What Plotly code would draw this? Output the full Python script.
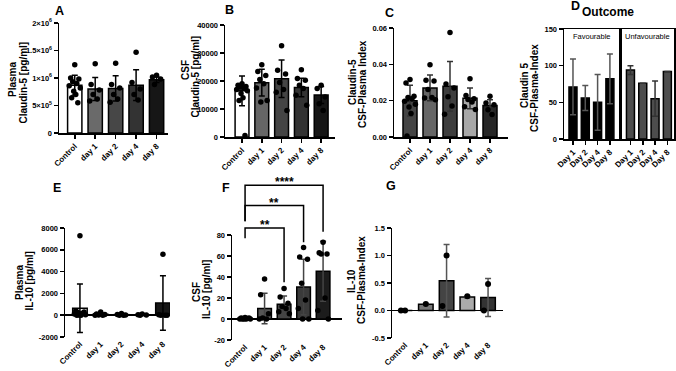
import plotly.graph_objects as go

W, H = 676, 371
FONT = "Liberation Sans, Arial, Helvetica, sans-serif"

categories = ["Control", "day 1", "day 2", "day 4", "day 8"]
outcome_days = ["Day 1", "Day 2", "Day 4", "Day 8"]

# ---------------- Panel A: Plasma Claudin-5 [pg/ml]
a_mean = [870000, 800000, 810000, 870000, 970000]
a_sd = [180000, 210000, 230000, 280000, 50000]
a_points = [
    [1240000, 1000000, 980000, 930000, 900000, 860000, 820000, 760000, 700000, 640000, 550000],
    [1260000, 880000, 780000, 700000, 620000, 580000],
    [1270000, 880000, 820000, 700000, 620000, 560000],
    [1470000, 920000, 800000, 700000, 600000],
    [1050000, 1020000, 980000, 880000],
]
a_yticks = [0, 500000, 1000000, 1500000, 2000000]
a_yticktext = ["0", "5×10<sup>5</sup>", "1×10<sup>6</sup>", "1.5×10<sup>6</sup>", "2×10<sup>6</sup>"]

# ---------------- Panel B: CSF Claudin-5 [pg/ml]
b_mean = [16500, 19400, 20800, 17700, 15000]
b_sd = [5300, 4800, 6700, 3300, 3000]
b_points = [
    [19000, 18500, 18000, 17800, 17500, 17000, 16500, 15500, 14000, 13000, 500],
    [25800, 23400, 22000, 20500, 19000, 17500, 13000, 12500],
    [32600, 23800, 22500, 19500, 17000, 16000, 9500],
    [24000, 20900, 20300, 18500, 17300, 14900, 11300],
    [18500, 17300, 14300, 11900, 9500],
]
b_yticks = [0, 10000, 20000, 30000, 40000]

# ---------------- Panel C: Claudin-5 CSF-Plasma Index
c_mean = [0.0200, 0.0270, 0.0279, 0.0213, 0.0174]
c_sd = [0.0085, 0.0071, 0.0137, 0.0057, 0.0031]
c_points = [
    [0.0316, 0.0297, 0.0225, 0.0218, 0.0210, 0.0197, 0.0180, 0.0165, 0.0130, 0.0005],
    [0.0398, 0.0312, 0.0308, 0.0262, 0.0218, 0.0214, 0.0205],
    [0.0575, 0.0292, 0.0270, 0.0222, 0.0170, 0.0125],
    [0.0320, 0.0228, 0.0210, 0.0207, 0.0192, 0.0167, 0.0152],
    [0.0224, 0.0187, 0.0178, 0.0150, 0.0124],
]
c_yticks = [0, 0.02, 0.04, 0.06]
c_yticktext = ["0.00", "0.02", "0.04", "0.06"]

# ---------------- Panel D: Claudin 5 CSF-Plasma-Index by outcome
d_fav_mean = [71, 56, 50, 82]
d_fav_sd = [38, 17, 38, 34]
d_unfav_mean = [94, 76, 55, 92]
d_unfav_sd = [6, 0, 24, 0]
d_yticks = [0, 50, 100, 150]

# ---------------- Panel E: Plasma IL-10 [pg/ml]
e_mean = [640, 80, 50, 40, 1115]
e_sd = [2220, 80, 40, 30, 2500]
e_points = [
    [7300, 400, 300, 250, 150, 100, 50, 20, 0, 0],
    [300, 120, 60, 20, 0, 0],
    [150, 60, 20, 0, 0],
    [100, 40, 10, 0],
    [5600, 50, 0, 0, 0],
]
e_yticks = [-2000, 0, 2000, 4000, 6000, 8000]

# ---------------- Panel F: CSF IL-10 [pg/ml]
f_mean = [0.5, 10, 14, 30.5, 45.5]
f_sd = [0.5, 14.5, 8, 26.4, 28.5]
f_points = [
    [1.5, 1, 1, 0.5, 0.5, 0, 0, 0, 0, 0],
    [38, 23, 5, 1, 0, 0],
    [29, 21, 15, 12, 10, 7, 5],
    [68, 59, 57, 34, 18, 10, 0, 0],
    [73, 63, 62, 62, 20, 8, 0],
]
f_yticks = [-20, 0, 20, 40, 60, 80]
f_sig_pairs = [(0, 2), (0, 3), (0, 4)]
f_sig_labels = ["**", "**", "****"]
f_sig_heights = [86.7, 108, 127.5]
f_sig_left_ends = [77, 93, 93]
f_sig_right_ends = [35, 73, 83]

# ---------------- Panel G: IL-10 CSF-Plasma-Index
g_mean = [0.0, 0.115, 0.54, 0.245, 0.235]
g_sd = [0.0, 0.01, 0.66, 0.02, 0.345]
g_points = [
    [0.0, 0.0],
    [0.12],
    [1.0, 0.08],
    [0.26],
    [0.48, 0.0],
]
g_yticks = [-0.5, 0, 0.5, 1.0, 1.5]
g_yticktext = ["-0.5", "0.0", "0.5", "1.0", "1.5"]

# ---------------- geometry (pixel boxes) and styles
geom = {
    1: dict(x=(59, 168), y=(23, 133), xr=(-0.77, 4.56), yr=(0, 2000000)),
    2: dict(x=(225, 335), y=(25, 137), xr=(-0.86, 4.7), yr=(0, 40000)),
    3: dict(x=(394, 508), y=(28, 137), xr=(-0.8, 4.9), yr=(0, 0.06)),
    4: dict(x=(564, 620), y=(29, 139), xr=(-0.73, 3.82), yr=(0, 150)),
    5: dict(x=(620, 674), y=(29, 139), xr=(-0.85, 3.54), yr=(0, 150)),
    6: dict(x=(65, 170), y=(228, 337), xr=(-0.72, 4.34), yr=(-2000, 8000)),
    7: dict(x=(232, 342), y=(235, 340), xr=(-0.67, 4.97), yr=(-20, 80)),
    8: dict(x=(392, 503), y=(228, 338), xr=(-0.63, 4.72), yr=(-0.5, 1.5)),
}
colors = {
    1: ["#ffffff", "#6a6a6a", "#474747", "#333333", "#161616"],
    2: ["#ffffff", "#666666", "#444444", "#333333", "#161616"],
    3: ["#444444", "#666666", "#3d3d3d", "#a8a8a8", "#262626"],
    6: ["#ffffff", "#444444", "#444444", "#444444", "#161616"],
    7: ["#ffffff", "#555555", "#444444", "#3a3a3a", "#1c1c1c"],
    8: ["#ffffff", "#777777", "#444444", "#aaaaaa", "#333333"],
}
err_colors = {1: "black", 2: "black", 3: "#333333", 6: "black", 7: "#444444", 8: "#555555"}


def jitter(n):
    pattern = [0.0, -0.2, 0.2, -0.1, 0.1, -0.27, 0.27, -0.05, 0.05, -0.15, 0.15, -0.24, 0.24]
    return [pattern[i % len(pattern)] for i in range(n)]


def ax_name(k, a):
    return a if k == 1 else f"{a}{k}"


fig = go.Figure()

panel_data = {
    1: (a_mean, a_sd, a_points),
    2: (b_mean, b_sd, b_points),
    3: (c_mean, c_sd, c_points),
    6: (e_mean, e_sd, e_points),
    7: (f_mean, f_sd, f_points),
    8: (g_mean, g_sd, g_points),
}

for k, (mean, sd, pts) in panel_data.items():
    xs = list(range(len(categories)))
    fig.add_trace(go.Bar(
        x=xs, y=mean, width=0.7,
        marker=dict(color=colors[k], line=dict(color="black", width=1.5)),
        error_y=dict(type="data", array=sd, color=err_colors[k], thickness=1.5, width=3),
        xaxis=ax_name(k, "x"), yaxis=ax_name(k, "y"), hoverinfo="skip",
    ))
    px_, py_ = [], []
    for i, group in enumerate(pts):
        for off, v in zip(jitter(len(group)), group):
            px_.append(i + off)
            py_.append(v)
    fig.add_trace(go.Scatter(
        x=px_, y=py_, mode="markers",
        marker=dict(color="black", size=5.5 if k != 8 else 6, line=dict(width=0)),
        cliponaxis=False,
        xaxis=ax_name(k, "x"), yaxis=ax_name(k, "y"), hoverinfo="skip",
    ))

# Panel D bars
fig.add_trace(go.Bar(
    x=list(range(4)), y=d_fav_mean, width=0.65,
    marker=dict(color="#000000", line=dict(color="black", width=1.5)),
    error_y=dict(type="data", array=d_fav_sd, color="#555555", thickness=1.5, width=3),
    xaxis="x4", yaxis="y4", hoverinfo="skip",
))
fig.add_trace(go.Bar(
    x=list(range(4)), y=d_unfav_mean, width=0.65,
    marker=dict(color="#4d4d4d", line=dict(color="black", width=1.5)),
    error_y=dict(type="data", array=d_unfav_sd, color="#333333", thickness=1.5, width=3),
    xaxis="x5", yaxis="y5", hoverinfo="skip",
))

tickfont = dict(family=FONT, size=7.5, color="black", weight="bold")
layout = dict(
    template="none",
    width=W, height=H, margin=dict(l=0, r=0, t=0, b=0, pad=0, autoexpand=False),
    paper_bgcolor="white", plot_bgcolor="white", showlegend=False,
    font=dict(family=FONT, color="black"), barmode="overlay",
)

yticks_cfg = {
    1: (a_yticks, a_yticktext),
    2: (b_yticks, [str(v) for v in b_yticks]),
    3: (c_yticks, c_yticktext),
    4: (d_yticks, [str(v) for v in d_yticks]),
    5: (d_yticks, [str(v) for v in d_yticks]),
    6: (e_yticks, [str(v) for v in e_yticks]),
    7: (f_yticks, [str(v) for v in f_yticks]),
    8: (g_yticks, g_yticktext),
}

for k, g in geom.items():
    xa = "xaxis" if k == 1 else f"xaxis{k}"
    ya = "yaxis" if k == 1 else f"yaxis{k}"
    zero_axis = k in (6, 7, 8)
    is_d = k in (4, 5)
    if is_d:
        tv, tt = list(range(4)), outcome_days
    else:
        tv, tt = list(range(5)), categories
    layout[xa] = dict(
        domain=[g["x"][0] / W, g["x"][1] / W], anchor=ax_name(k, "y"),
        range=list(g["xr"]), tickvals=tv, ticktext=tt, tickangle=-45,
        showline=not zero_axis, linecolor="black", linewidth=1.5,
        mirror=True if is_d else False, automargin=False,
        ticks="" if zero_axis else "outside", ticklen=4, tickwidth=1.5, tickcolor="black",
        tickfont=dict(tickfont, size=8), showgrid=False, zeroline=False, fixedrange=True,
    )
    yv, yt = yticks_cfg[k]
    layout[ya] = dict(
        domain=[1 - g["y"][1] / H, 1 - g["y"][0] / H], anchor=ax_name(k, "x"),
        range=list(g["yr"]), tickvals=yv, ticktext=yt,
        showline=True, linecolor="black", linewidth=1.5,
        mirror=True if is_d else False, automargin=False,
        ticks="" if k == 5 else "outside", ticklen=4, tickwidth=1.5, tickcolor="black",
        showticklabels=(k != 5),
        tickfont=tickfont, showgrid=False,
        zeroline=zero_axis, zerolinecolor="black", zerolinewidth=1.5,
        fixedrange=True,
    )

annotations = []


def ann(text, x, y, size, bold=True, angle=0, xanchor="center", yanchor="middle"):
    annotations.append(dict(
        text=text, x=x / W, y=1 - y / H, xref="paper", yref="paper",
        showarrow=False, textangle=angle, xanchor=xanchor, yanchor=yanchor,
        font=dict(family=FONT, size=size, color="black", weight="bold" if bold else "normal"),
    ))


# panel letters
for letter, x, y in [("A", 59, 11), ("B", 229, 10), ("C", 390, 13), ("D", 575, 6),
                     ("E", 57, 188), ("F", 226, 188), ("G", 391, 186)]:
    ann(letter, x, y, 12.5)

# y-axis titles (one annotation per line)
TS = 10
for text, x, y in [
    ("Plasma", 12, 80), ("Claudin-5 [pg/ml]", 22.5, 83),
    ("CSF", 186, 70), ("Claudin-5 [pg/ml]", 195.5, 77),
    ("Claudin-5", 353, 82), ("CSF-Plasma Index", 363, 84),
    ("Claudin 5", 524, 86), ("CSF-Plasma-Index", 534, 88),
    ("Plasma", 19, 283), ("IL-10 [pg/ml]", 28.5, 281),
    ("CSF", 196, 292), ("IL-10 [pg/ml]", 206, 290),
    ("IL-10", 351, 281), ("CSF-Plasma-Index", 361, 280),
]:
    ann(text, x, y, TS, angle=-90)

# Panel D header texts
ann("Outcome", 608, 12, 12)
ann("Favourable", 592, 37, 7.5, bold=False)
ann("Unfavourable", 647, 37, 7.5, bold=False)

# significance brackets in panel F (converted through panel F's axis mapping)
gf = geom[7]


def fxp(v):
    x0, x1 = gf["x"]
    r0, r1 = gf["xr"]
    return (x0 + (v - r0) / (r1 - r0) * (x1 - x0)) / W


def fyp(v):
    y0, y1 = gf["y"]
    r0, r1 = gf["yr"]
    py = y1 - (v - r0) / (r1 - r0) * (y1 - y0)
    return 1 - py / H


shapes = []
for (a, b), lab, h, le, re in zip(f_sig_pairs, f_sig_labels, f_sig_heights,
                                   f_sig_left_ends, f_sig_right_ends):
    path = (f"M {fxp(a)},{fyp(le)} L {fxp(a)},{fyp(h)} "
            f"L {fxp(b)},{fyp(h)} L {fxp(b)},{fyp(re)}")
    shapes.append(dict(type="path", path=path, xref="paper", yref="paper",
                       line=dict(color="black", width=1.5)))
    annotations.append(dict(
        text=lab, x=(fxp(a) + fxp(b)) / 2, y=fyp(h) + 3 / H, xref="paper", yref="paper",
        showarrow=False, xanchor="center", yanchor="middle",
        font=dict(family=FONT, size=12, color="black", weight="bold"),
    ))

layout["annotations"] = annotations
layout["shapes"] = shapes
fig.update_layout(**layout)

fig.write_html(
    "out.html",
    config={"displayModeBar": False, "staticPlot": True},
    post_script="document.body.style.margin='0';document.body.style.overflow='hidden';",
)
